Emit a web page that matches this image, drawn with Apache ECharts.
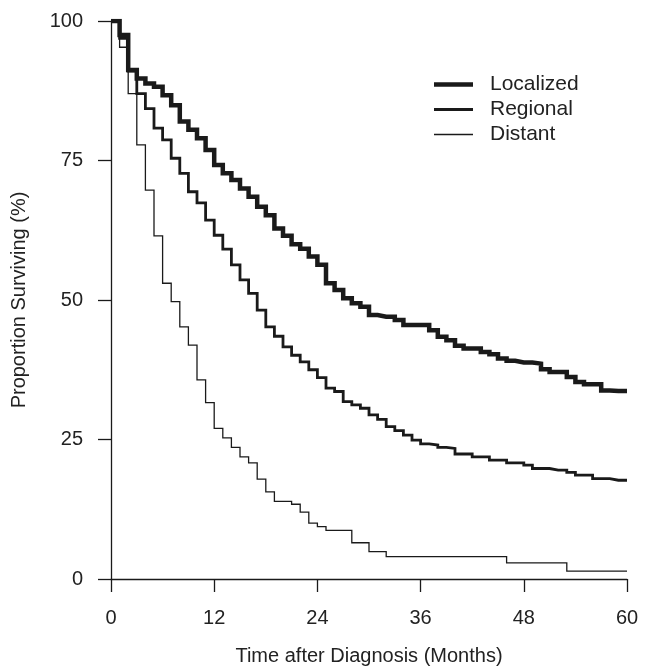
<!DOCTYPE html>
<html>
<head>
<meta charset="utf-8">
<script src="https://cdn.jsdelivr.net/npm/echarts@6/dist/echarts.min.js"></script>
<style>
  body { margin: 0; background: #fff; }
  #chart { width: 651px; height: 666px; }
</style>
</head>
<body>
<div id="chart"></div>
<script>
// months since diagnosis (step times)
var months = [0, 1, 2, 3, 4, 5, 6, 7, 8, 9,
  10, 11, 12, 13, 14, 15, 16, 17, 18, 19,
  20, 21, 22, 23, 24, 25, 26, 27, 28, 29,
  30, 31, 32, 33, 34, 35, 36, 37, 38, 39,
  40, 41, 42, 43, 44, 45, 46, 47, 48, 49,
  50, 51, 52, 53, 54, 55, 56, 57, 58, 59,
  60];

// proportion surviving (%) after each month
var localized = [100, 97.5, 91.2, 89.7, 88.8, 88.2, 86.7, 84.9, 82.0, 80.5,
  79.0, 76.9, 74.2, 72.7, 71.5, 70.0, 68.5, 66.7, 65.2, 62.8,
  61.5, 60.0, 59.2, 57.8, 56.3, 53.0, 51.8, 50.3, 49.4, 48.8,
  47.3, 47.0, 47.0, 46.4, 45.5, 45.5, 45.5, 44.6, 43.4, 42.8,
  41.8, 41.3, 41.3, 40.7, 40.3, 39.5, 39.1, 38.8, 38.8, 38.6,
  37.6, 37.1, 37.1, 36.2, 35.3, 34.9, 34.9, 33.8, 33.7, 33.7,
  33.7];

var regional = [100, 96.9, 91.0, 87.0, 84.3, 80.8, 78.7, 75.4, 72.7, 69.4,
  67.4, 64.3, 61.6, 59.1, 56.3, 53.6, 51.2, 48.2, 45.2, 43.5,
  41.6, 40.1, 38.9, 37.5, 36.1, 34.2, 33.6, 31.8, 31.2, 30.6,
  29.4, 28.6, 27.3, 26.6, 25.8, 24.9, 24.2, 24.0, 23.6, 23.4,
  22.4, 22.4, 21.9, 21.9, 21.3, 21.3, 20.8, 20.8, 20.4, 19.8,
  19.8, 19.5, 19.5, 19.1, 18.6, 18.6, 18.0, 18.0, 17.7, 17.7,
  17.7];

var distant = [100, 95.3, 87.0, 77.8, 69.7, 61.5, 53.0, 49.7, 45.2, 41.9,
  35.7, 31.6, 27.0, 25.3, 23.6, 21.9, 20.8, 17.9, 15.6, 13.9,
  13.9, 13.4, 12.0, 10.0, 9.4, 8.7, 8.7, 8.7, 6.5, 6.5,
  4.9, 4.9, 4.0, 4.0, 4.0, 4.0, 4.0, 4.0, 4.0, 4.0,
  4.0, 4.0, 4.0, 4.0, 4.0, 4.0, 2.9, 2.9, 2.9, 2.9,
  2.9, 2.9, 2.9, 1.4, 1.4, 1.4, 1.4, 1.4, 1.4, 1.4,
  1.4];

var stageNames = ['Localized', 'Regional', 'Distant'];
var xTicks = [0, 12, 24, 36, 48, 60];
var yTicks = [0, 25, 50, 75, 100];

var font = 'Liberation Sans, Arial, sans-serif';
var ink = '#1a1a1a';

// legend swatches: flat bars as thick as each curve
var widths = { Localized: 4.5, Regional: 2.8, Distant: 1.3 };

function pairs(values) {
  return months.map(function (m, i) {
    return [m, values[i]];
  });
}

function stepSeries(name, values) {
  return {
    name: name,
    type: 'line',
    step: 'end',
    symbol: 'none',
    animation: false,
    lineStyle: { color: ink, width: widths[name], cap: 'butt', join: 'miter' },
    itemStyle: { color: ink },
    data: pairs(values)
  };
}

var chart = echarts.init(document.getElementById('chart'), null, { renderer: 'canvas' });

var option = {
  backgroundColor: '#fff',
  animation: false,
  grid: { left: 111, right: 24, top: 21, bottom: 87, containLabel: false, outerBoundsMode: 'none' },
  legend: {
    data: stageNames.map(function (n) {
      return {
        name: n,
        icon: 'path://M0,0h39v' + widths[n] + 'h-39z',
        itemStyle: { color: ink, borderWidth: 0 }
      };
    }),
    orient: 'vertical',
    left: 429,
    top: 69,
    itemWidth: 39,
    itemHeight: 14,
    itemGap: 4,
    symbolKeepAspect: true,
    textStyle: { fontFamily: font, fontSize: 21, color: '#222', padding: [0, 0, 0, 12] }
  },
  xAxis: {
    type: 'value',
    min: 0,
    max: 60,
    interval: 12,
    name: 'Time after Diagnosis (Months)',
    nameLocation: 'middle',
    nameGap: 67,
    nameTextStyle: { fontFamily: font, fontSize: 20, color: '#222' },
    axisLine: { show: true, lineStyle: { color: ink, width: 1.3 } },
    axisTick: { show: true, inside: false, length: 13, lineStyle: { color: ink, width: 1.3 } },
    axisLabel: {
      margin: 29,
      fontFamily: font,
      fontSize: 20,
      color: '#222',
      customValues: xTicks
    },
    splitLine: { show: false }
  },
  yAxis: {
    type: 'value',
    min: 0,
    max: 100,
    interval: 25,
    name: 'Proportion Surviving (%)',
    nameLocation: 'middle',
    nameGap: 82,
    nameTextStyle: { fontFamily: font, fontSize: 20, color: '#222' },
    axisLine: { show: true, lineStyle: { color: ink, width: 1.3 } },
    axisTick: { show: true, inside: false, length: 13, lineStyle: { color: ink, width: 1.3 } },
    axisLabel: {
      margin: 28,
      fontFamily: font,
      fontSize: 20,
      color: '#222',
      customValues: yTicks
    },
    splitLine: { show: false }
  },
  series: [
    stepSeries('Distant', distant),
    stepSeries('Regional', regional),
    stepSeries('Localized', localized)
  ]
};

chart.setOption(option);
</script>
</body>
</html>
